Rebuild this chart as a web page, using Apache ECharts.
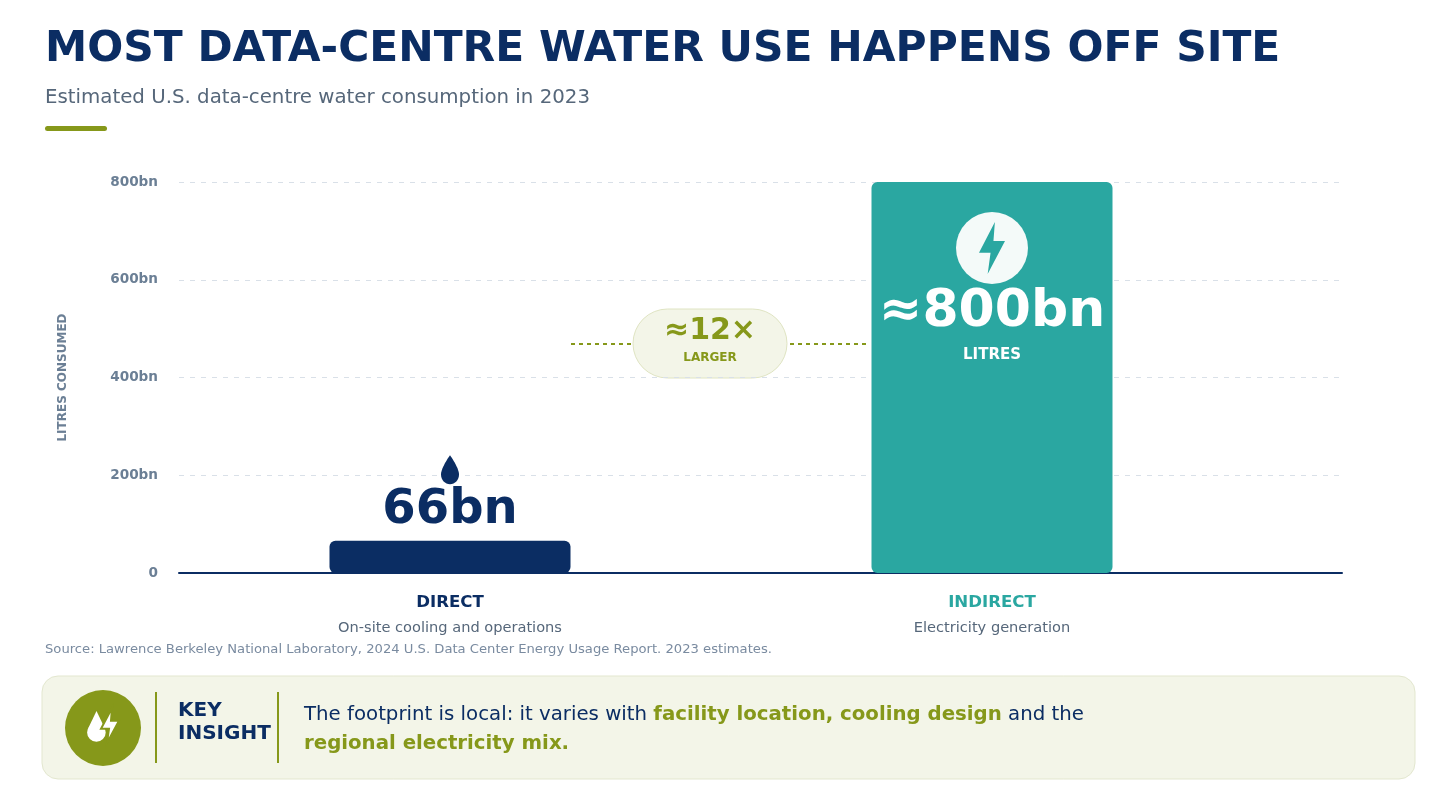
<!DOCTYPE html>
<html>
<head>
<meta charset="utf-8">
<script src="https://cdn.jsdelivr.net/npm/echarts@6/dist/echarts.min.js"></script>
<style>
  html,body{margin:0;padding:0;background:#fff;}
  #main{width:1456px;height:812px;}
</style>
</head>
<body>
<div id="main"></div>
<script>
// data
var categories = ['DIRECT', 'INDIRECT'];
var subLabels = ['On-site cooling and operations', 'Electricity generation'];
var values = [66, 800];
var valuePrefix = ['', '≈'];
var yTicks = [0, 200, 400, 600, 800];

var NAVY = '#0b2d63', TEAL = '#2aa7a1', OLIVE = '#86981a', GREY = '#6b7f95';
var FONT = 'DejaVu Sans';
var DROP = 'path://M12 1C12 1 4 10.5 4 15.5C4 20 7.6 23 12 23C16.4 23 20 20 20 15.5C20 10.5 12 1 12 1Z';
var BOLT = 'path://M14 1L3 14H11L9 23L21 9H13L14 1Z';

// bolt outline for the key-insight badge (24 box -> pixel box)
function boltPoints(x0, y0, w, h) {
    var p = [[14, 1], [3, 14], [11, 14], [9, 23], [21, 9], [13, 9]];
    return p.map(function (q) { return [x0 + (q[0] - 3) / 18 * w, y0 + (q[1] - 1) / 22 * h]; });
}

var myChart = echarts.init(document.getElementById('main'));

myChart.setOption({
    backgroundColor: '#ffffff',
    textStyle: { fontFamily: FONT },
    animation: false,
    grid: [
        { left: 179, right: 193, top: 182, bottom: 239 },
        { left: 179, right: 114, top: 182, bottom: 239 }
    ],
    xAxis: [
        {
            gridIndex: 0,
            type: 'category',
            data: categories,
            axisLine: { show: false },
            axisTick: { show: false },
            axisLabel: {
                margin: 17,
                formatter: function (v, i) {
                    return '{' + (i === 0 ? 'a' : 'b') + '|' + v + '}\n{s|' + subLabels[i] + '}';
                },
                rich: {
                    a: { color: NAVY, fontWeight: 'bold', fontSize: 16.6, fontFamily: FONT, lineHeight: 26 },
                    b: { color: TEAL, fontWeight: 'bold', fontSize: 16.6, fontFamily: FONT, lineHeight: 26 },
                    s: { color: '#56677a', fontSize: 14.6, fontFamily: FONT, lineHeight: 25 }
                }
            }
        },
        {
            gridIndex: 1,
            type: 'value',
            min: 0, max: 1,
            axisLine: { show: true, lineStyle: { color: NAVY, width: 2 } },
            axisTick: { show: false },
            axisLabel: { show: false },
            splitLine: { show: false }
        }
    ],
    yAxis: [
        {
            gridIndex: 0,
            type: 'value',
            min: 0, max: 800,
            show: false,
            splitLine: { show: false }
        },
        {
            gridIndex: 1,
            type: 'value',
            min: yTicks[0], max: yTicks[yTicks.length - 1], interval: 200,
            name: 'LITRES CONSUMED',
            nameLocation: 'middle',
            nameRotate: 90,
            nameGap: 110,
            nameTextStyle: { color: GREY, fontWeight: 'bold', fontSize: 12, fontFamily: FONT },
            axisLine: { show: false },
            axisTick: { show: false },
            axisLabel: {
                margin: 21,
                color: GREY, fontWeight: 'bold', fontSize: 13.6, fontFamily: FONT,
                formatter: function (v) { return v === 0 ? '0' : v + 'bn'; }
            },
            splitLine: { show: true, lineStyle: { color: '#d9e0e8', type: [5, 6], width: 1 } }
        }
    ],
    series: [
        {
            type: 'bar',
            xAxisIndex: 0, yAxisIndex: 0,
            barWidth: 241,
            z: 3,
            data: [
                {
                    value: values[0],
                    itemStyle: { color: NAVY, borderRadius: 6 },
                    label: {
                        show: true, position: 'top', distance: 6,
                        formatter: valuePrefix[0] + '{c}bn',
                        color: NAVY, fontSize: 48, fontWeight: 'bold', fontFamily: FONT
                    }
                },
                {
                    value: values[1],
                    itemStyle: { color: TEAL, borderRadius: 6 },
                    label: {
                        show: true, position: 'insideTop', distance: 100,
                        formatter: '{v|' + valuePrefix[1] + '{c}bn}\n{u|LITRES}',
                        rich: {
                            v: { color: '#ffffff', fontSize: 52, fontWeight: 'bold', fontFamily: FONT, lineHeight: 60 },
                            u: { color: '#ffffff', fontSize: 15, fontWeight: 'bold', fontFamily: FONT, lineHeight: 26 }
                        }
                    }
                }
            ]
        },
        {
            // icon above the direct value
            type: 'scatter',
            xAxisIndex: 0, yAxisIndex: 0,
            z: 4,
            silent: true,
            data: [{ value: [0, values[0]], symbol: DROP, symbolSize: [18, 29], symbolOffset: [0, -71], itemStyle: { color: NAVY, opacity: 1 } }]
        },
        {
            // badge inside the indirect bar
            type: 'scatter',
            xAxisIndex: 0, yAxisIndex: 0,
            z: 4,
            silent: true,
            data: [
                { value: [1, values[1]], symbol: 'circle', symbolSize: 72, symbolOffset: [0, 66], itemStyle: { color: '#f4faf9', opacity: 1 } },
                { value: [1, values[1]], symbol: BOLT, symbolSize: [26, 52], symbolOffset: [0, 66], itemStyle: { color: TEAL, opacity: 1 } }
            ]
        }
    ],
    graphic: [
        { type: 'text', x: 45, y: 29, style: { text: 'MOST DATA-CENTRE WATER USE HAPPENS OFF SITE', fill: NAVY, font: 'bold 42.4px "DejaVu Sans"', textVerticalAlign: 'top' } },
        { type: 'text', x: 45, y: 88, style: { text: 'Estimated U.S. data-centre water consumption in 2023', fill: '#56677a', font: '19.8px "DejaVu Sans"', textVerticalAlign: 'top' } },
        { type: 'rect', shape: { x: 45, y: 126, width: 62, height: 5, r: 2.5 }, style: { fill: OLIVE } },

        // ratio annotation
        { type: 'line', shape: { x1: 571, y1: 344, x2: 632, y2: 344 }, style: { stroke: OLIVE, lineWidth: 2, lineDash: [4, 4] } },
        { type: 'line', shape: { x1: 790, y1: 344, x2: 866, y2: 344 }, style: { stroke: OLIVE, lineWidth: 2, lineDash: [4, 4] } },
        { type: 'rect', shape: { x: 633, y: 309, width: 154, height: 69, r: 34.5 }, style: { fill: '#f3f5e8', stroke: '#dfe4c2', lineWidth: 1 } },
        { type: 'text', x: 710, y: 331, style: { text: '≈12×', fill: OLIVE, font: 'bold 30px "DejaVu Sans"', textAlign: 'center', textVerticalAlign: 'middle' } },
        { type: 'text', x: 710, y: 358, style: { text: 'LARGER', fill: OLIVE, font: 'bold 12px "DejaVu Sans"', textAlign: 'center', textVerticalAlign: 'middle' } },

        { type: 'text', x: 45, y: 643, style: { text: 'Source: Lawrence Berkeley National Laboratory, 2024 U.S. Data Center Energy Usage Report. 2023 estimates.', fill: '#7a8ba0', font: '13.15px "DejaVu Sans"', textVerticalAlign: 'top' } },

        // key insight box
        { type: 'rect', shape: { x: 42, y: 676, width: 1373, height: 103, r: 16 }, style: { fill: '#f3f5e8', stroke: '#e3e7cf', lineWidth: 1 } },
        { type: 'circle', shape: { cx: 103, cy: 728, r: 38 }, style: { fill: OLIVE } },
        { type: 'circle', shape: { cx: 96.4, cy: 732.5, r: 9.3 }, style: { fill: '#ffffff' } },
        { type: 'polygon', shape: { points: [[96.5, 711], [88.1, 728.5], [104.9, 728.5]] }, style: { fill: '#ffffff' } },
        { type: 'polygon', shape: { points: boltPoints(101, 708, 18, 35) }, style: { fill: '#ffffff', stroke: OLIVE, lineWidth: 2 } },
        { type: 'rect', shape: { x: 155, y: 692, width: 2, height: 71 }, style: { fill: OLIVE } },
        { type: 'rect', shape: { x: 277, y: 692, width: 2, height: 71 }, style: { fill: OLIVE } },
        { type: 'text', x: 178, y: 699, style: { text: 'KEY\nINSIGHT', fill: NAVY, font: 'bold 20px "DejaVu Sans"', lineHeight: 23, textVerticalAlign: 'top' } },
        {
            type: 'text', x: 304, y: 700,
            style: {
                text: '{n|The footprint is local: it varies with }{h|facility location, cooling design}{n| and the}\n{h|regional electricity mix.}',
                textVerticalAlign: 'top',
                rich: {
                    n: { fill: NAVY, fontSize: 19.75, fontFamily: FONT, lineHeight: 29 },
                    h: { fill: OLIVE, fontSize: 19.75, fontWeight: 'bold', fontFamily: FONT, lineHeight: 29 }
                }
            }
        }
    ]
});
</script>
</body>
</html>
